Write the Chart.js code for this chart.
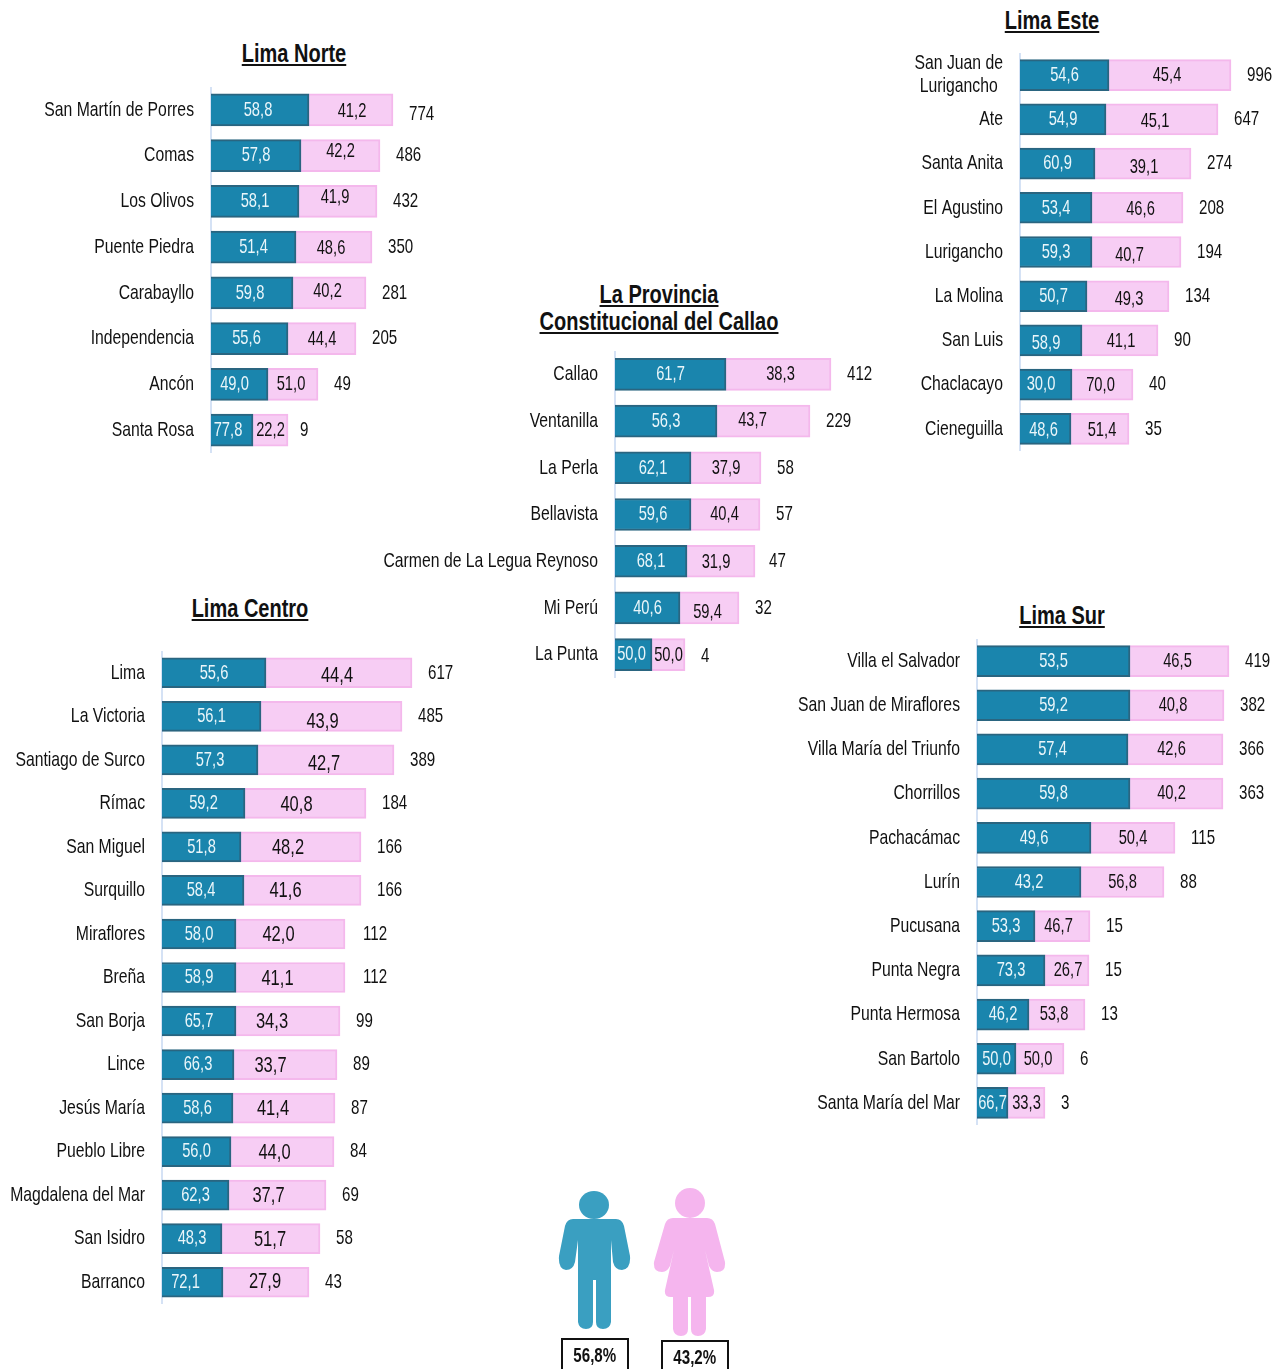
<!DOCTYPE html>
<html lang="es">
<head>
<meta charset="utf-8">
<title>Regiones</title>
<script src="https://cdn.jsdelivr.net/npm/chart.js@4/dist/chart.umd.min.js"></script>
<style>
  html, body { margin: 0; padding: 0; background: #fff; }
  #page { position: relative; width: 1274px; height: 1369px; overflow: hidden; font-family: "Liberation Sans", sans-serif; color: #111; }
  canvas { position: absolute; }
  .title { position: absolute; transform: translateX(-50%) scaleX(0.8); white-space: nowrap; font-weight: bold; font-size: 25px; line-height: 27px; text-decoration: underline; text-align: center; }
  .pct { position: absolute; box-sizing: border-box; width: 68px; height: 40px; border: 2px solid #111; font-weight: bold; font-size: 21px; line-height: 30px; text-align: center; }
  .pct span { display: inline-block; transform: scaleX(0.72); }
  svg { position: absolute; left: 0; top: 0; }
</style>
</head>
<body>
<div id="page">
  <canvas id="norte"></canvas>
  <canvas id="este"></canvas>
  <canvas id="callao"></canvas>
  <canvas id="centro"></canvas>
  <canvas id="sur"></canvas>

  <div class="title" style="left:294px;top:40px">Lima Norte</div>
  <div class="title" style="left:1052px;top:7px">Lima Este</div>
  <div class="title" style="left:659px;top:281px">La Provincia<br>Constitucional del Callao</div>
  <div class="title" style="left:250px;top:595px">Lima Centro</div>
  <div class="title" style="left:1062px;top:602px">Lima Sur</div>

  <svg width="1274" height="1369">
    <g fill="#3a9fc1">
      <ellipse cx="594" cy="1205" rx="15" ry="14"/>
      <path d="M573 1219 H616 Q622 1219 624 1226 L630 1256 Q631 1269 622 1270 Q615 1270 613 1262 L611 1240 V1322 Q610 1329 603 1329 Q596 1329 596 1322 V1280 H593 V1322 Q593 1329 586 1329 Q579 1329 578 1322 V1240 L575 1262 Q573 1270 566 1270 Q558 1269 559 1256 L565 1226 Q567 1219 573 1219 Z"/>
    </g>
    <g fill="#f5b5ee">
      <ellipse cx="690" cy="1203" rx="15" ry="15"/>
      <path d="M673 1218 H707 Q713 1218 715 1224 L725 1262 Q726 1272 717 1272 Q712 1272 709 1266 L705 1250 L714 1290 Q715 1297 708 1297 H706 V1329 Q705 1336 698 1336 Q691 1336 691 1329 V1297 H688 V1329 Q688 1336 681 1336 Q674 1336 673 1329 V1297 H671 Q664 1297 665 1290 L674 1250 L670 1266 Q667 1272 662 1272 Q653 1272 654 1262 L665 1224 Q667 1218 673 1218 Z"/>
    </g>
  </svg>
  <div class="pct" style="left:561px;top:1338px"><span>56,8%</span></div>
  <div class="pct" style="left:661px;top:1340px"><span>43,2%</span></div>
</div>

<script>
// Lima Norte
const norteNames = ["San Martín de Porres", "Comas", "Los Olivos", "Puente Piedra", "Carabayllo", "Independencia", "Ancón", "Santa Rosa"]
const norteHombres = [58.8, 57.8, 58.1, 51.4, 59.8, 55.6, 49.0, 77.8]
const norteMujeres = [41.2, 42.2, 41.9, 48.6, 40.2, 44.4, 51.0, 22.2]
const norteTotal = [774, 486, 432, 350, 281, 205, 49, 9]
const norteLargoH = [98, 90, 88, 85, 82, 77, 57, 42]
const norteLargoM = [84, 79, 78, 76, 73, 68, 50, 35]

// Lima Este
const esteNames = [["San Juan de", "Lurigancho"], "Ate", "Santa Anita", "El Agustino", "Lurigancho", "La Molina", "San Luis", "Chaclacayo", "Cieneguilla"]
const esteHombres = [54.6, 54.9, 60.9, 53.4, 59.3, 50.7, 58.9, 30.0, 48.6]
const esteMujeres = [45.4, 45.1, 39.1, 46.6, 40.7, 49.3, 41.1, 70.0, 51.4]
const esteTotal = [996, 647, 274, 208, 194, 134, 90, 40, 35]
const esteLargoH = [89, 86, 75, 72, 72, 67, 62, 52, 51]
const esteLargoM = [122, 112, 96, 91, 89, 82, 76, 61, 58]

// Callao
const callaoNames = ["Callao", "Ventanilla", "La Perla", "Bellavista", "Carmen de La Legua Reynoso", "Mi Perú", "La Punta"]
const callaoHombres = [61.7, 56.3, 62.1, 59.6, 68.1, 40.6, 50.0]
const callaoMujeres = [38.3, 43.7, 37.9, 40.4, 31.9, 59.4, 50.0]
const callaoTotal = [412, 229, 58, 57, 47, 32, 4]
const callaoLargoH = [111, 102, 76, 76, 72, 65, 37]
const callaoLargoM = [105, 93, 70, 69, 68, 59, 33]

// Lima Centro
const centroNames = ["Lima", "La Victoria", "Santiago de Surco", "Rímac", "San Miguel", "Surquillo", "Miraflores", "Breña", "San Borja", "Lince", "Jesús María", "Pueblo Libre", "Magdalena del Mar", "San Isidro", "Barranco"]
const centroHombres = [55.6, 56.1, 57.3, 59.2, 51.8, 58.4, 58.0, 58.9, 65.7, 66.3, 58.6, 56.0, 62.3, 48.3, 72.1]
const centroMujeres = [44.4, 43.9, 42.7, 40.8, 48.2, 41.6, 42.0, 41.1, 34.3, 33.7, 41.4, 44.0, 37.7, 51.7, 27.9]
const centroTotal = [617, 485, 389, 184, 166, 166, 112, 112, 99, 89, 87, 84, 69, 58, 43]
const centroLargoH = [104, 99, 96, 83, 79, 82, 74, 74, 74, 72, 71, 69, 67, 60, 61]
const centroLargoM = [146, 141, 136, 121, 120, 117, 109, 109, 104, 103, 102, 103, 97, 98, 86]

// Lima Sur
const surNames = ["Villa el Salvador", "San Juan de Miraflores", "Villa María del Triunfo", "Chorrillos", "Pachacámac", "Lurín", "Pucusana", "Punta Negra", "Punta Hermosa", "San Bartolo", "Santa María del Mar"]
const surHombres = [53.5, 59.2, 57.4, 59.8, 49.6, 43.2, 53.3, 73.3, 46.2, 50.0, 66.7]
const surMujeres = [46.5, 40.8, 42.6, 40.2, 50.4, 56.8, 46.7, 26.7, 53.8, 50.0, 33.3]
const surTotal = [419, 382, 366, 363, 115, 88, 15, 15, 13, 6, 3]
const surLargoH = [153, 153, 151, 153, 114, 104, 58, 68, 52, 39, 31]
const surLargoM = [99, 94, 95, 93, 84, 83, 55, 44, 56, 48, 37]

const FONT = '"Liberation Sans", sans-serif'
const BLUE = "#1a85ad"
const BLUE_EDGE = "#2a6580"
const PINK = "#f7cdf4"
const PINK_EDGE = "#f4b8ec"
const NAME_SQUEEZE = 0.75

// Hand placed labels in the reference: [dx, dy] away from the centre of the segment
const norteNudge = {
  m: [[1, 1], [0, -4], [-3, -4], [-3, 1], [-2, -2], [0, 1], [-2, 0], [0, 0]],
  h: { 0: [-2, 0], 4: [-2, 0], 5: [-3, 0], 6: [-5, 0], 7: [-4, 0] },
  t: { 0: [0, 4], 7: [-4, 0] },
}
const esteNudge = {
  m: [[-3, 0], [-7, 2], [1, 4], [3, 1], [-7, 3], [1, 3], [1, 1], [-2, 1], [2, 1]],
  h: { 6: [-5, 3], 7: [-5, 0], 8: [-2, 1] },
  t: {},
}
const callaoNudge = {
  m: [[2, 0], [-11, -1], [0, 0], [-1, 0], [-5, 1], [-2, 4], [0, 1]],
  h: { 6: [-2, 0] },
  t: { 4: [-2, 0], 6: [0, 2] },
}
const centroNudge = {
  m: [[-2, 3], [-9, 6], [-2, 4], [-9, 2], [-13, 1], [-17, 1], [-12, 1], [-13, 1], [-16, 1], [-15, 1], [-11, 1], [-8, 1], [-9, 1], [-1, 1], [-1, 0]],
  h: { 5: [-2, 0], 14: [-7, 0] },
  t: { 6: [2, 0], 7: [2, 0] },
}
const surNudge = {
  m: [[-2, 0], [-4, 0], [-4, 0], [-5, 0], [0, 0], [0, 0], [-4, 0], [1, 0], [-3, 0], [-2, 0], [0, 0]],
  h: {},
  t: {},
}

const decimal = (v) => v.toFixed(1).replace(".", ",")

// The reference uses a squeezed Arial, no narrow face is installed
function squeezedText(ctx, text, x, y, squeeze) {
  ctx.save()
  ctx.translate(x, y)
  ctx.scale(squeeze, 1)
  ctx.fillText(text, 0, 0)
  ctx.restore()
}

// Category names, percent inside each segment, total after the bar
const barLabels = {
  id: "barLabels",
  afterDatasetsDraw(chart, args, opts) {
    const ctx = chart.ctx
    const yScale = chart.scales.y
    const blue = chart.getDatasetMeta(0).data
    const pink = chart.getDatasetMeta(1).data
    const nudge = opts.nudge
    ctx.save()
    ctx.textBaseline = "middle"
    blue.forEach((bar, i) => {
      const h = nudge.h[i] || [0, 0]
      const m = nudge.m[i]
      const t = nudge.t[i] || [0, 0]
      ctx.textAlign = "center"
      ctx.fillStyle = "#eaf6fa"
      ctx.font = `21px ${FONT}`
      squeezedText(ctx, decimal(opts.hombres[i]), (bar.base + bar.x) / 2 + h[0], bar.y + h[1], 0.7)
      ctx.fillStyle = "#111"
      ctx.font = `${opts.pinkSize}px ${FONT}`
      squeezedText(ctx, decimal(opts.mujeres[i]), (pink[i].base + pink[i].x) / 2 + m[0], bar.y + m[1], opts.pinkSqueeze)
      ctx.textAlign = "left"
      ctx.font = `21px ${FONT}`
      squeezedText(ctx, String(opts.total[i]), pink[i].x + 16 + t[0], bar.y + t[1], 0.72)

      const name = chart.data.labels[i]
      const rowY = yScale.getPixelForTick(i)
      const nameRight = yScale.right - 17
      if (Array.isArray(name)) {
        // Two line names are centred on each other
        ctx.textAlign = "center"
        const widest = Math.max(...name.map((line) => ctx.measureText(line).width)) * NAME_SQUEEZE
        name.forEach((line, l) => {
          squeezedText(ctx, line, nameRight - widest / 2, rowY + (l - (name.length - 1) / 2) * 23, NAME_SQUEEZE)
        })
      } else {
        ctx.textAlign = "right"
        squeezedText(ctx, name, nameRight, rowY, NAME_SQUEEZE)
      }
    })
    ctx.restore()
  },
}

function drawRegion(id, region) {
  const canvas = document.getElementById(id)
  const { left, top, width, axisX, rowH, barH } = region
  const rows = region.names.length
  const height = Math.round(rowH * rows)
  canvas.style.left = left + "px"
  canvas.style.top = top + "px"
  canvas.width = width
  canvas.height = height
  canvas.style.width = width + "px"
  canvas.style.height = height + "px"

  new Chart(canvas, {
    type: "bar",
    plugins: [barLabels],
    data: {
      labels: region.names,
      datasets: [
        { data: region.largoH, backgroundColor: BLUE, borderColor: BLUE_EDGE, borderWidth: 2 },
        { data: region.largoM, backgroundColor: PINK, borderColor: PINK_EDGE, borderWidth: 2 },
      ],
    },
    options: {
      indexAxis: "y",
      responsive: false,
      animation: false,
      barThickness: barH,
      layout: { padding: 0, autoPadding: false },
      scales: {
        x: { stacked: true, display: false, min: 0, max: width - (axisX - left) },
        y: {
          stacked: true,
          afterFit: (scale) => {
            scale.width = axisX - left
            scale.paddingTop = 0
            scale.paddingBottom = 0
          },
          grid: { display: false, drawTicks: false },
          border: { color: "#d5e2f5", width: 2 },
          ticks: { display: false, autoSkip: false },
        },
      },
      plugins: {
        legend: { display: false },
        tooltip: { enabled: false },
        barLabels: {
          hombres: region.hombres,
          mujeres: region.mujeres,
          total: region.total,
          nudge: region.nudge,
          pinkSize: region.pinkSize || 21,
          pinkSqueeze: region.pinkSqueeze || 0.7,
        },
      },
    },
  })
}

drawRegion("norte", { names: norteNames, hombres: norteHombres, mujeres: norteMujeres, total: norteTotal, largoH: norteLargoH, largoM: norteLargoM, nudge: norteNudge, left: 0, top: 87, width: 460, axisX: 211, rowH: 45.7, barH: 32 })
drawRegion("este", { names: esteNames, hombres: esteHombres, mujeres: esteMujeres, total: esteTotal, largoH: esteLargoH, largoM: esteLargoM, nudge: esteNudge, left: 880, top: 53, width: 394, axisX: 1020, rowH: 44.25, barH: 31 })
drawRegion("callao", { names: callaoNames, hombres: callaoHombres, mujeres: callaoMujeres, total: callaoTotal, largoH: callaoLargoH, largoM: callaoLargoM, nudge: callaoNudge, left: 360, top: 351, width: 540, axisX: 615, rowH: 46.7, barH: 32 })
drawRegion("centro", { names: centroNames, hombres: centroHombres, mujeres: centroMujeres, total: centroTotal, largoH: centroLargoH, largoM: centroLargoM, nudge: centroNudge, left: 0, top: 651, width: 480, axisX: 162, rowH: 43.5, barH: 30, pinkSize: 22, pinkSqueeze: 0.75 })
drawRegion("sur", { names: surNames, hombres: surHombres, mujeres: surMujeres, total: surTotal, largoH: surLargoH, largoM: surLargoM, nudge: surNudge, left: 780, top: 639, width: 494, axisX: 977, rowH: 44.2, barH: 31 })
</script>
</body>
</html>
